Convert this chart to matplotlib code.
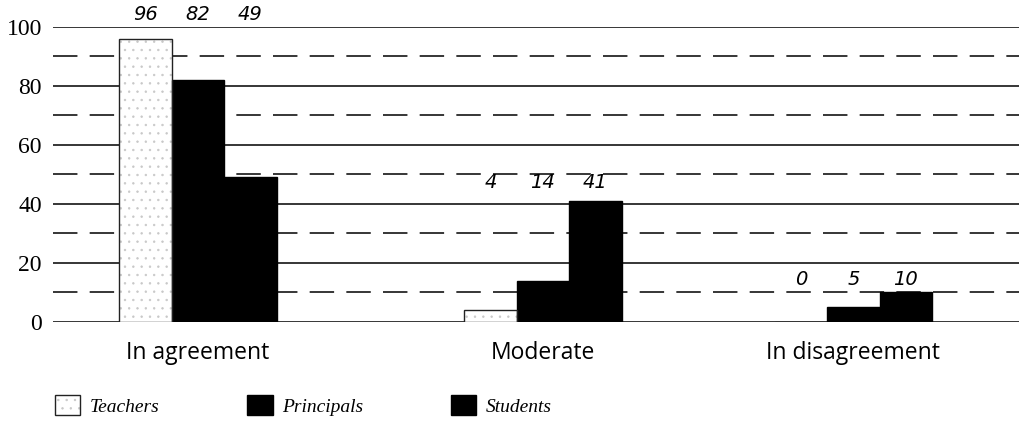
#!/usr/bin/env python3
"""Bar chart: agreement levels among teachers, principals and students."""

import numpy as np
import matplotlib
matplotlib.use("Agg")
import matplotlib.pyplot as plt
from matplotlib.patches import Patch
from matplotlib.legend_handler import HandlerTuple

categories = ["In agreement", "Moderate", "In disagreement"]
groups = ["Teachers", "Principals", "Students"]
teachers = [96, 4, 0]
principals = [82, 14, 5]
students = [49, 41, 10]

plt.rcParams["hatch.linewidth"] = 0.5

fig = plt.figure(figsize=(10.19, 4.28), dpi=100)
ax = fig.add_axes([0.052, 0.248, 0.948, 0.689])

x = np.array([0.0, 1.0, 1.9])
width = 0.152
series = [teachers, principals, students]

# light speckled fill for teachers, outlined in black on top
speckle = dict(facecolor="white", edgecolor="#c8c8c8", hatch="..", linewidth=0)
outline = dict(fill=False, edgecolor="#222222", linewidth=1.0)
solid = dict(facecolor="black", edgecolor="black", linewidth=1.0)

ax.bar(x - width, teachers, width, zorder=3, **speckle)
ax.bar(x - width, teachers, width, zorder=4, **outline)
ax.bar(x, principals, width, zorder=3, **solid)
ax.bar(x + width, students, width, zorder=3, **solid)

# value labels float above the tallest bar of each group
label_gap = [5.0, 3.0, 1.3]
for j in range(len(categories)):
    top = max(s[j] for s in series)
    for i, vals in enumerate(series):
        ax.text(x[j] + (i - 1) * width, top + label_gap[j], str(vals[j]),
                ha="center", va="bottom", fontsize=14, style="italic",
                family="DejaVu Sans", clip_on=False)

# gridlines: solid every 20, dashed in between
for y in range(0, 101, 20):
    ax.axhline(y, color="black", lw=1.1, zorder=1)
for y in range(10, 100, 20):
    ax.axhline(y, color="black", lw=1.1, ls=(0, (16, 8)), zorder=1)

ax.set_xlim(-0.42, 2.38)
ax.set_ylim(0, 100)
ax.set_yticks(range(0, 101, 20))
ax.set_yticklabels([str(v) for v in range(0, 101, 20)],
                   fontsize=17, family="Liberation Serif")
ax.set_xticks(x)
ax.set_xticklabels(categories, fontsize=16.5, family="Open Sans")
ax.tick_params(axis="both", length=0)
ax.tick_params(axis="x", pad=14)
ax.tick_params(axis="y", pad=8)
for sp in ax.spines.values():
    sp.set_visible(False)

handles = [(Patch(**speckle), Patch(**outline)), Patch(**solid), Patch(**solid)]
fig.legend(handles, groups, loc="lower left", bbox_to_anchor=(0.037, -0.012),
           ncol=3, frameon=False, handlelength=1.3, handleheight=1.25,
           handletextpad=0.5, columnspacing=4.5,
           handler_map={tuple: HandlerTuple(ndivide=1, pad=0)},
           prop=dict(family="Liberation Serif", style="italic", size=14))

fig.savefig("out.png", dpi=100)
